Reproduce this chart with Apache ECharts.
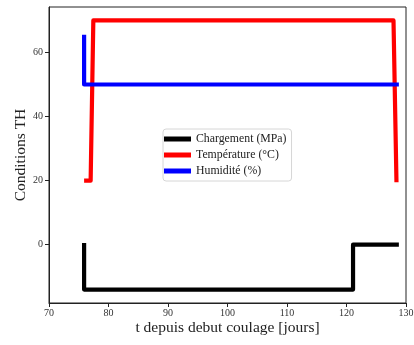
<!DOCTYPE html>
<html><head><meta charset="utf-8">
<script src="https://cdn.jsdelivr.net/npm/echarts@6/dist/echarts.min.js"></script>
<style>html,body{margin:0;padding:0;background:#fff}#c{width:414px;height:345px}</style>
</head><body><div id="c"></div>
<script>
const seriesNames = ['Chargement (MPa)', 'Température (°C)', 'Humidité (%)'];
const chargeT = [75.9, 75.9, 121.1, 121.1, 128.8];
const chargeV = [0.5, -14, -14, 0, 0];
const tempT = [75.9, 77.0, 77.45, 127.9, 128.4];
const tempV = [20, 20, 70, 70, 19.5];
const humT = [75.9, 75.9, 128.8];
const humV = [65.5, 50, 50];
const xTicks = [70, 80, 90, 100, 110, 120, 130];
const yTicks = [0, 20, 40, 60];
const colors = ['#000000', '#ff0000', '#0000ff'];

const zip = (a, b) => a.map((v, i) => [v, b[i]]);
const font = '"Liberation Serif", "DejaVu Serif", serif';
const chart = echarts.init(document.getElementById('c'), null, {renderer: 'canvas'});
const mk = (name, t, v, c) => ({
  name, type: 'line', data: zip(t, v), showSymbol: false, symbol: 'none',
  lineStyle: {color: c, width: 4.2, join: 'round', cap: 'butt'}, itemStyle: {color: c},
  animation: false
});
chart.setOption({
  animation: false,
  grid: {left: 49, right: 8, top: 7, bottom: 42, containLabel: false, outerBoundsMode: 'none',
         show: true, borderColor: '#222', borderWidth: 1, backgroundColor: 'transparent'},
  xAxis: {
    type: 'value', min: 70, max: 130, interval: 10,
    name: 't depuis debut coulage [jours]', nameLocation: 'middle', nameGap: 17, nameMoveOverlap: false,
    nameTextStyle: {fontFamily: font, fontSize: 15.5, color: '#222'},
    axisLine: {show: true, onZero: false, lineStyle: {color: '#222'}},
    axisTick: {show: true, inside: false, length: 4, lineStyle: {color: '#222'}, customValues: xTicks},
    axisLabel: {fontFamily: font, fontSize: 10, color: '#333', margin: 5, customValues: xTicks},
    splitLine: {show: false}
  },
  yAxis: {
    type: 'value', min: -18.2, max: 74.2,
    name: 'Conditions TH', nameLocation: 'middle', nameGap: 20, nameRotate: 90, nameMoveOverlap: false,
    nameTextStyle: {fontFamily: font, fontSize: 15.5, color: '#222'},
    axisLine: {show: true, onZero: false, lineStyle: {color: '#222'}},
    axisTick: {show: true, inside: false, length: 4, lineStyle: {color: '#222'}, customValues: yTicks},
    axisLabel: {fontFamily: font, fontSize: 10, color: '#333', margin: 6, customValues: yTicks},
    splitLine: {show: false}
  },
  legend: {
    data: seriesNames.map(n => ({name: n, icon: 'rect'})),
    orient: 'vertical', left: 163, top: 129,
    itemWidth: 27, itemHeight: 5, itemGap: 4,
    padding: [4, 5, 4, 1],
    borderColor: '#d6d6d6', borderWidth: 1, borderRadius: 3, backgroundColor: '#fff',
    textStyle: {fontFamily: font, fontSize: 11.8, color: '#222', lineHeight: 12},
    selectedMode: false
  },
  series: [
    mk(seriesNames[0], chargeT, chargeV, colors[0]),
    mk(seriesNames[1], tempT, tempV, colors[1]),
    mk(seriesNames[2], humT, humV, colors[2])
  ]
});
</script></body></html>
